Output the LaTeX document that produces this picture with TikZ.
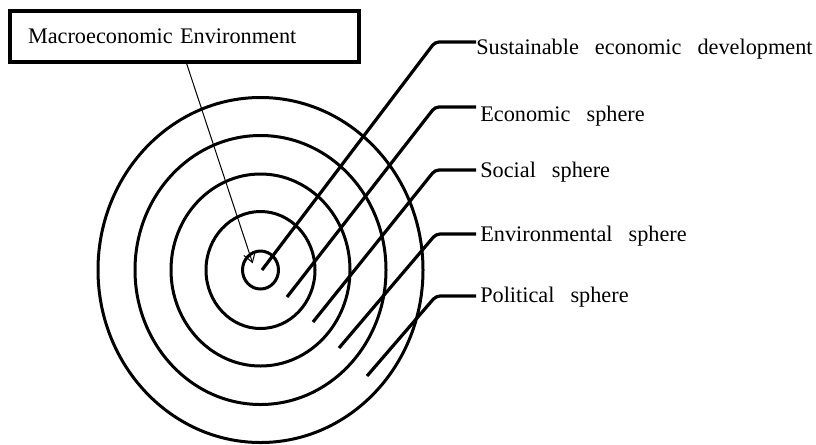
\documentclass[tikz,border=0pt]{standalone}
\usepackage{fontspec}
\setmainfont{Liberation Serif}
\usetikzlibrary{arrows.meta}
\newcommand\lblfont{\fontsize{16.7}{20}\selectfont\spaceskip=0.72em\relax}
\begin{document}
\begin{tikzpicture}[x=0.75pt,y=-0.75pt,
  ring/.style={draw=black, line width=2.25pt},
  leader/.style={draw=black, line width=2.4pt, rounded corners=3pt},
  lab/.style={font=\lblfont, inner sep=0pt, anchor=base west},
  titlebox/.style={draw=black, line width=2.5pt, font=\lblfont, minimum width=261.75pt, minimum height=38.25pt, inner xsep=13.5pt, inner ysep=0pt, text width=234.75pt, align=left},
  pointer/.style={draw=black, line width=0.75pt, -{Straight Barb[length=7pt,width=9pt]}}]
\useasboundingbox (0,0) rectangle (816,444);
\coordinate (c) at (260.5,270);
\foreach \rx/\ry in {18/19, 54.5/58.5, 89.5/96, 125.5/134.5, 162.5/172.5}
  \draw[ring] (c) ellipse [x radius=\rx, y radius=\ry];

% title box and pointer
\node[titlebox] (box) at (184.5,36.5) {Macroeconomic Environment};
\coordinate (atip) at (252.7,263.3);
\draw[pointer] ([xshift=1.6pt]box.south) -- (atip);

% labels
\node[lab] (l1) at (476,54.3) {Sustainable economic development};
\node[lab] (l2) at (480,121.7) {Economic sphere};
\node[lab] (l3) at (480,177.7) {Social sphere};
\node[lab] (l4) at (480,241.7) {Environmental sphere};
\node[lab] (l5) at (480,302.7) {Political sphere};

% leader start points and kinks
\coordinate (s1) at (262,270);  \coordinate (k1) at (435,42);
\coordinate (s2) at (287,297);  \coordinate (k2) at (435,107);
\coordinate (s3) at (313,322);  \coordinate (k3) at (435,170);
\coordinate (s4) at (339,348);  \coordinate (k4) at (436,234);
\coordinate (s5) at (367,376);  \coordinate (k5) at (436,296);

\draw[leader] (s1) -- (k1) -- (k1 -| l1.west);
\draw[leader] (s2) -- (k2) -- ([xshift=-3pt]k2 -| l2.west);
\draw[leader] (s3) -- (k3) -- ([xshift=-3pt]k3 -| l3.west);
\draw[leader] (s4) -- (k4) -- ([xshift=-3pt]k4 -| l4.west);
\draw[leader] (s5) -- (k5) -- ([xshift=-3pt]k5 -| l5.west);
\end{tikzpicture}
\end{document}
